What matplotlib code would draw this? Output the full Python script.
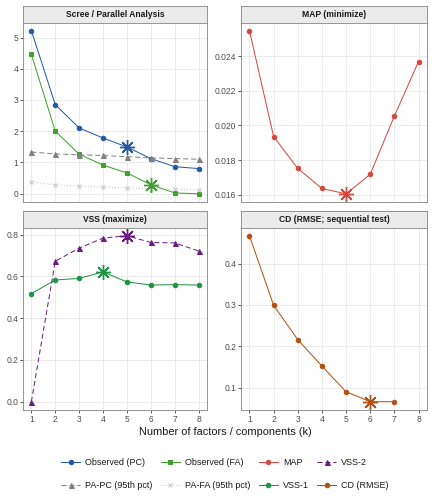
import matplotlib
matplotlib.use("Agg")
import matplotlib.pyplot as plt
import numpy as np

plt.rcParams["font.family"] = ["Liberation Sans", "DejaVu Sans"]

k = [1, 2, 3, 4, 5, 6, 7, 8]

# scree / parallel analysis
obs_pc = [5.22, 2.85, 2.10, 1.78, 1.49, 1.12, 0.86, 0.80]
obs_fa = [4.46, 2.00, 1.26, 0.91, 0.66, 0.28, 0.02, -0.01]
pa_pc = [1.33, 1.27, 1.24, 1.22, 1.18, 1.14, 1.12, 1.10]
pa_fa = [0.38, 0.27, 0.24, 0.21, 0.18, 0.15, 0.13, 0.11]

# MAP
map_vals = [0.02548, 0.01936, 0.01752, 0.01636, 0.01605, 0.01718, 0.02055, 0.02369]

# VSS
vss1 = [0.518, 0.583, 0.591, 0.622, 0.574, 0.559, 0.561, 0.559]
vss2 = [0.0, 0.673, 0.736, 0.784, 0.795, 0.763, 0.761, 0.722]

# CD
cd_k = [1, 2, 3, 4, 5, 6, 7]
cd_vals = [0.467, 0.299, 0.216, 0.152, 0.090, 0.066, 0.066]

# chosen k for each criterion
best_pc, best_fa, best_map, best_vss1, best_vss2, best_cd = 5, 6, 5, 4, 5, 6

col_pc = "#2459A8"
col_fa = "#3DA12B"
col_map = "#D6473C"
col_vss2 = "#6A1B7F"
col_papc = "#808080"
col_pafa = "#C4C4C4"
col_vss1 = "#1E9444"
col_cd = "#B3510E"

W, H = 432, 504
fig = plt.figure(figsize=(W / 72, H / 72), dpi=72)

def px_axes(x0, y0, x1, y1):
    return fig.add_axes([x0 / W, 1 - y1 / H, (x1 - x0) / W, (y1 - y0) / H])

def panel(x0, x1, ys, ye, title, bottom):
    strip = px_axes(x0, ys, x1, ys + 16.5)
    strip.set_facecolor("#EBEBEB")
    strip.set_xticks([]); strip.set_yticks([])
    for s in strip.spines.values():
        s.set_color("#8C8C8C"); s.set_linewidth(0.9)
    strip.text(0.5, 0.47, title, ha="center", va="center", fontsize=8.5,
               fontweight="bold", color="#1A1A1A", transform=strip.transAxes)
    ax = px_axes(x0, ys + 16.5, x1, ye)
    ax.set_facecolor("white")
    for s in ax.spines.values():
        s.set_color("#8C8C8C"); s.set_linewidth(0.9)
    ax.grid(True, color="#EBEBEB", linewidth=1.0)
    ax.set_axisbelow(True)
    ax.set_xlim(0.65, 8.35)
    ax.set_xticks(k)
    ax.tick_params(axis="both", colors="#333333", labelcolor="#4D4D4D",
                   labelsize=8.5, length=2.8, width=0.8, pad=2)
    if not bottom:
        ax.tick_params(axis="x", length=0, labelbottom=False)
    return ax

def ylim_expand(ax, vals):
    lo, hi = min(vals), max(vals)
    r = hi - lo
    ax.set_ylim(lo - 0.05 * r, hi + 0.05 * r)

def star(ax, x, y, c):
    ax.plot([x], [y], marker=(8, 2, 0), markersize=15, markeredgewidth=1.4,
            color=c, linestyle="none", zorder=5)

# scree
ax1 = panel(23, 207, 6, 202, "Scree / Parallel Analysis", False)
l_pc, = ax1.plot(k, obs_pc, color=col_pc, marker="o", ms=4.5, lw=1, label="Observed (PC)")
l_fa, = ax1.plot(k, obs_fa, color=col_fa, marker="s", ms=4.5, lw=1, label="Observed (FA)")
l_papc, = ax1.plot(k, pa_pc, color=col_papc, marker="^", ms=5, lw=1, ls=(0, (5, 3)), label="PA-PC (95th pct)")
l_pafa, = ax1.plot(k, pa_fa, color=col_pafa, marker="x", ms=4.5, mew=1, lw=1, ls=(0, (1, 2)), label="PA-FA (95th pct)")
star(ax1, best_pc, obs_pc[best_pc - 1], col_pc)
star(ax1, best_fa, obs_fa[best_fa - 1], col_fa)
ylim_expand(ax1, obs_pc + obs_fa + pa_pc + pa_fa)
ax1.set_yticks([0, 1, 2, 3, 4, 5])

# MAP
ax2 = panel(241, 427, 6, 202, "MAP (minimize)", False)
l_map, = ax2.plot(k, map_vals, color=col_map, marker="o", ms=4.5, lw=1, label="MAP")
star(ax2, best_map, map_vals[best_map - 1], col_map)
ylim_expand(ax2, map_vals)
ax2.set_yticks([0.016, 0.018, 0.020, 0.022, 0.024])
ax2.set_yticklabels(["0.016", "0.018", "0.020", "0.022", "0.024"])

# VSS
ax3 = panel(23, 207, 211, 410, "VSS (maximize)", True)
l_v1, = ax3.plot(k, vss1, color=col_vss1, marker="o", ms=4.5, lw=1, label="VSS-1")
l_v2, = ax3.plot(k, vss2, color=col_vss2, marker="^", ms=5, lw=1, ls=(0, (5, 3)), label="VSS-2")
star(ax3, best_vss1, vss1[best_vss1 - 1], col_vss1)
star(ax3, best_vss2, vss2[best_vss2 - 1], col_vss2)
ylim_expand(ax3, vss1 + vss2)
ax3.set_yticks([0.0, 0.2, 0.4, 0.6, 0.8])
ax3.set_yticklabels(["0.0", "0.2", "0.4", "0.6", "0.8"])

# CD
ax4 = panel(241, 427, 211, 410, "CD (RMSE; sequential test)", True)
l_cd, = ax4.plot(cd_k, cd_vals, color=col_cd, marker="o", ms=4.5, lw=1, label="CD (RMSE)")
star(ax4, best_cd, cd_vals[best_cd - 1], col_cd)
ylim_expand(ax4, cd_vals)
ax4.set_yticks([0.1, 0.2, 0.3, 0.4])

fig.text(225 / W, 1 - 432 / H, "Number of factors / components (k)", ha="center",
         va="center", fontsize=11, color="#1A1A1A")

handles = [l_pc, l_papc, l_fa, l_pafa, l_map, l_v1, l_v2, l_cd]
fig.legend(handles=handles, labels=[h.get_label() for h in handles], ncol=4,
           loc="center", bbox_to_anchor=(225 / W, 1 - 474 / H), frameon=False,
           fontsize=9, handlelength=2.1, columnspacing=0.9, handletextpad=0.6,
           labelspacing=1.5, labelcolor="#1A1A1A")

fig.savefig("out.png", dpi=72)
